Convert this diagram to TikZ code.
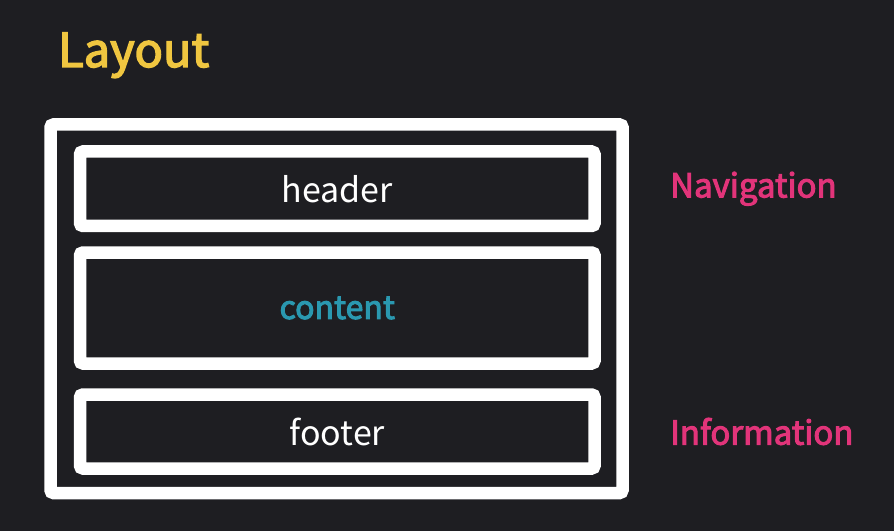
\documentclass[tikz,border=0pt]{standalone}
\usepackage{fontspec}
\setmainfont{Noto Sans CJK KR}
\newfontfamily\mediumfont[FakeBold=3]{Noto Sans CJK KR}
\usetikzlibrary{positioning}
\definecolor{bgColor}{RGB}{30,30,34}
\definecolor{titleColor}{RGB}{240,198,64}
\definecolor{noteColor}{RGB}{226,52,122}
\definecolor{contentColor}{RGB}{42,152,176}
\begin{document}
\begin{tikzpicture}[x=1pt,y=1pt,
  frame/.style={draw=white,line width=12.5pt,rounded corners=3pt,inner sep=0pt,outer sep=0pt},
  part/.style={frame,minimum width=514.5pt,text=white,font=\fontsize{34}{40}\selectfont},
  note/.style={text=noteColor,inner sep=0pt,font=\mediumfont\fontsize{33}{40}\selectfont}]
\path[use as bounding box,fill=bgColor] (0,0) rectangle (894,531);

% title
\node[text=titleColor,anchor=base west,inner sep=0pt,font=\mediumfont\fontsize{47}{56}\selectfont] (title) at (58,464) {Layout};

% page frame and its three parts
\node[frame,minimum width=572pt,minimum height=368.5pt] (page) at (336.5,222.25) {};
\node[part,minimum height=74.5pt] (header) at (337.25,342.25) {header};
\node[part,minimum height=111pt,text=contentColor] (content) at (337.25,223) {\mediumfont\fontsize{32}{40}\selectfont content};
\node[part,minimum height=74pt] (footer) at (337.25,99.5) {footer};

% side notes
\node[note,right=75.5pt of header] (nav) {Navigation};
\node[note,right=75.5pt of footer] (info) {Information};
\end{tikzpicture}
\end{document}
